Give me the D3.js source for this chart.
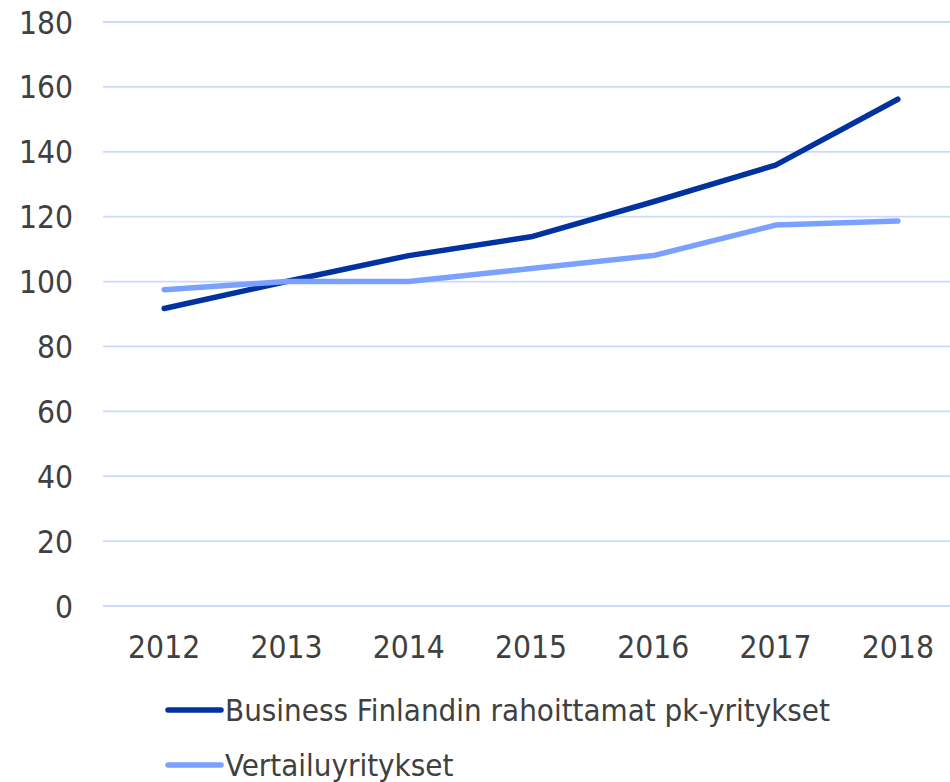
<!DOCTYPE html>
<html><head><meta charset="utf-8">
<script src="https://cdn.jsdelivr.net/npm/d3@7"></script>
<style>body{margin:0;background:#fff}svg{display:block}</style>
</head><body>
<svg id="c" width="950" height="782"></svg>
<script>
const years = ["2012","2013","2014","2015","2016","2017","2018"];
const businessFinland = [91.7, 100, 108, 113.8, 124.6, 135.9, 156.2];
const vertailu = [97.5, 100, 100, 104, 108, 117.4, 118.7];
const yTicks = [0,20,40,60,80,100,120,140,160,180];
const seriesNames = ["Business Finlandin rahoittamat pk-yritykset","Vertailuyritykset"];
const colors = ["#0032a0","#7aa1ff"];

const svg = d3.select("#c");
const font = "'DejaVu Sans Condensed','DejaVu Sans',sans-serif";
const x = d3.scaleBand().domain(years).range([103, 959]);
const y = d3.scaleLinear().domain([0,180]).range([606, 22]);

// gridlines
svg.append("g").selectAll("line").data(yTicks).join("line")
  .attr("x1",103).attr("x2",950)
  .attr("y1",d=>y(d)).attr("y2",d=>y(d))
  .attr("stroke","#cbdafc").attr("stroke-width",1.8);

// y axis labels
const ya = svg.append("g").attr("transform","translate(73,0)")
  .call(d3.axisLeft(y).tickValues(yTicks).tickSize(0).tickPadding(0));
ya.select(".domain").remove();
ya.selectAll("text").attr("font-family",font).attr("font-size",31.5).attr("fill","#404040").attr("dy","0.35em");

// x axis labels
const xa = svg.append("g").attr("transform","translate(0,630)")
  .call(d3.axisBottom(x).tickSize(0).tickPadding(0));
xa.select(".domain").remove();
xa.selectAll("text").attr("font-family",font).attr("font-size",31.5).attr("fill","#404040").attr("dy","0.9em");

const line = d3.line().x((d,i)=>x(years[i])+x.bandwidth()/2).y(d=>y(d));
[businessFinland, vertailu].forEach((s,k)=>{
  svg.append("path").datum(s).attr("d",line)
    .attr("fill","none").attr("stroke",colors[k]).attr("stroke-width",5.5)
    .attr("stroke-linecap","round").attr("stroke-linejoin","round");
});

// legend
const lg = svg.append("g");
seriesNames.forEach((n,k)=>{
  const ly = 710 + k*55;
  lg.append("line").attr("x1",168).attr("x2",221).attr("y1",ly).attr("y2",ly)
    .attr("stroke",colors[k]).attr("stroke-width",5.5).attr("stroke-linecap","round");
  lg.append("text").attr("x",225).attr("y",ly).attr("dy","0.36em")
    .attr("font-family",font).attr("font-size",31).attr("fill","#404040").text(n);
});
</script>
</body></html>
